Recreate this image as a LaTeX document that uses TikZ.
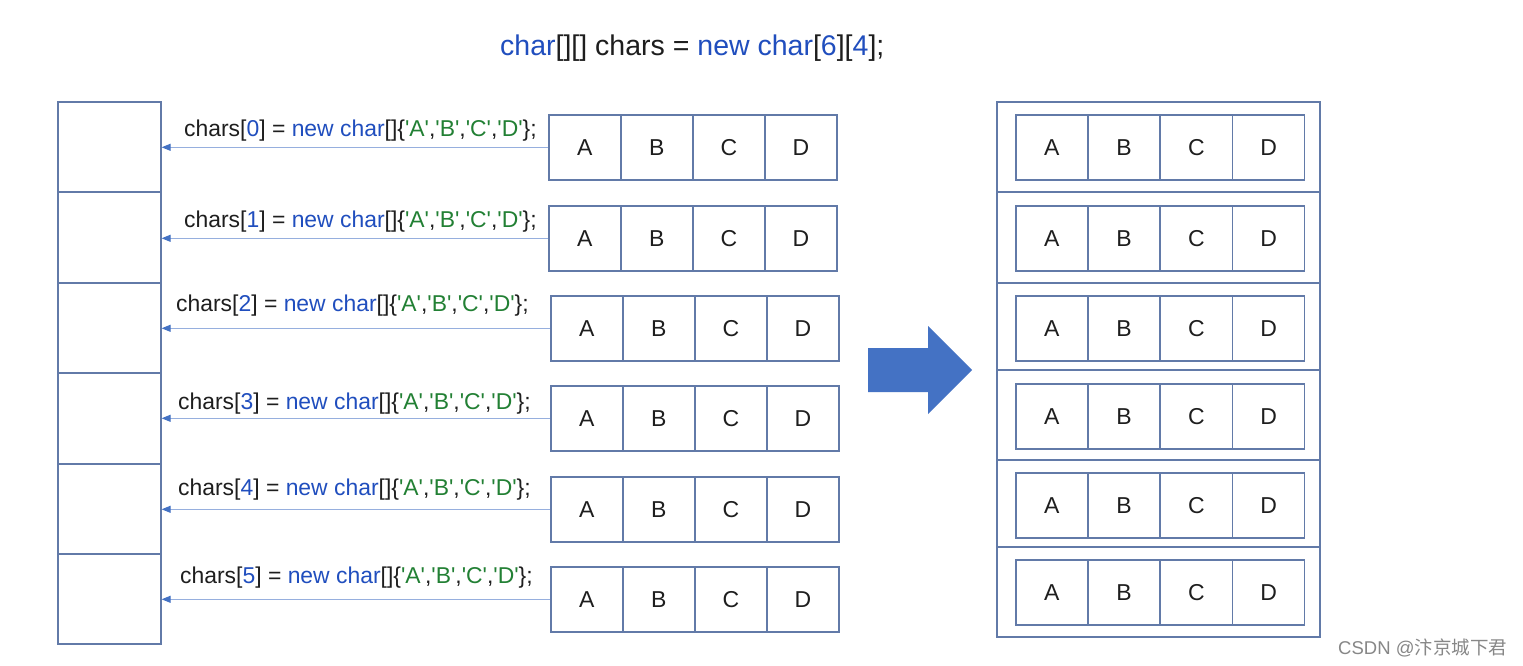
\documentclass[tikz,border=0pt]{standalone}
\usepackage{fontspec}
\setmainfont{Liberation Sans}
\newfontfamily\cjkfont{Noto Sans CJK SC}
\usetikzlibrary{arrows.meta}
\definecolor{boxc}{RGB}{98,122,168}
\definecolor{kwblue}{RGB}{32,78,190}
\definecolor{strgreen}{RGB}{34,128,52}
\definecolor{arrline}{RGB}{150,175,222}
\definecolor{arrhead}{RGB}{68,114,196}
\definecolor{bigblue}{RGB}{68,114,196}
\definecolor{txt}{RGB}{30,30,30}
\definecolor{wm}{RGB}{135,135,135}
\newcommand{\kw}[1]{\textcolor{kwblue}{#1}}
\newcommand{\strg}[1]{\textcolor{strgreen}{\textquotesingle#1\textquotesingle}}
\newcommand{\codeline}[1]{chars[\kw{#1}] = \kw{new char}[]\{\strg{A},\strg{B},\strg{C},\strg{D}\};}
\begin{document}
\begin{tikzpicture}[x=1pt,y=-1pt,
  cellbox/.style={draw=boxc, line width=1.6pt, minimum width=72pt, minimum height=65pt,
    inner sep=0pt, text=txt, font=\fontsize{23}{26}\selectfont},
  colbox/.style={draw=boxc, line width=1.6pt, inner sep=0pt},
  lab/.style={text=txt, inner sep=0pt, anchor=mid west, font=\fontsize{22.9}{26}\selectfont},
  conn/.style={draw=arrline, line width=1.1pt, -{Triangle[length=9pt,width=7pt,color=arrhead]}},
]
\useasboundingbox (0,0) rectangle (1523,666);
\fill[white] (0,0) rectangle (1523,666);

% title
\node[lab, font=\fontsize{28.5}{32}\selectfont] (title) at (500,53)
  {\kw{char}[][] chars = \kw{new char}[\kw{6}][\kw{4}];};

% left column of references
\foreach \i/\t/\h in {0/101/90, 1/191/91, 2/282/90, 3/372/91, 4/463/90, 5/553/90}
  \node[colbox, anchor=north west, minimum width=103pt, minimum height=\h pt] (L\i) at (57,\t) {};

% middle arrays
\foreach \i/\xx/\t in {0/548/114, 1/548/205, 2/550/295, 3/550/385, 4/550/476, 5/550/566}
  \foreach \c [count=\j from 0] in {A,B,C,D}
    \node[cellbox, anchor=north west] (M\i-\j) at ({\xx+72*\j},\t) {\c};

% code labels
\foreach \i/\lx/\ly in {0/184/134, 1/184/225, 2/176/309, 3/178/407, 4/178/493, 5/180/581}
  \node[lab] (T\i) at (\lx,\ly) {\codeline{\i}};

% connectors
\foreach \i in {0,...,5}
  \draw[conn] (M\i-0.west) -- (M\i-0.west -| L\i.east);

% big arrow
\fill[bigblue] (868,348) -- (928,348) -- (928,326) -- (972,370) -- (928,414)
  -- (928,392) -- (868,392) -- cycle;

% right: 2D array
\foreach \i/\t/\h in {0/101/90, 1/191/91, 2/282/87, 3/369/90, 4/459/87, 5/546/90}
  \node[colbox, anchor=north west, minimum width=323pt, minimum height=\h pt] (R\i) at (996,\t) {};
\foreach \i/\t in {0/114, 1/205, 2/295, 3/383, 4/472, 5/559}
  \foreach \c [count=\j from 0] in {A,B,C,D}
    \node[cellbox, anchor=north west] (N\i-\j) at ({1015+72.25*\j},\t) {\c};

% watermark
\node[lab, text=wm, font=\fontsize{18.5}{20}\selectfont] (wm) at (1338,652)
  {CSDN @{\cjkfont 汴京城下君}};
\end{tikzpicture}
\end{document}
